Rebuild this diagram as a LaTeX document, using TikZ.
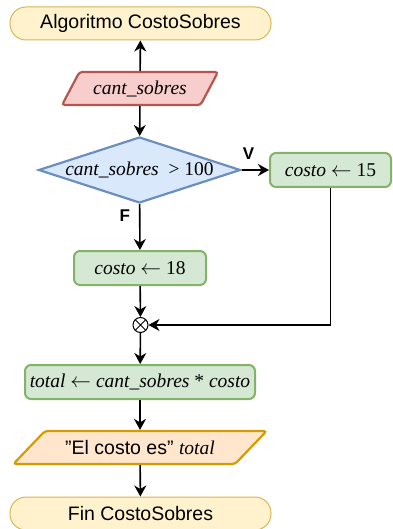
\documentclass[tikz,border=0pt]{standalone}
\usepackage{fontspec}
\setmainfont{Liberation Serif}
\setsansfont{Liberation Sans}
\usetikzlibrary{shapes.geometric,arrows.meta}

\definecolor{termfill}{HTML}{FFF2CC}
\definecolor{termline}{HTML}{D6B656}
\definecolor{infill}{HTML}{F8CECC}
\definecolor{inline}{HTML}{B85450}
\definecolor{decfill}{HTML}{DAE8FC}
\definecolor{decline}{HTML}{6C8EBF}
\definecolor{procfill}{HTML}{D5E8D4}
\definecolor{procline}{HTML}{82B366}
\definecolor{outfill}{HTML}{FFE6CC}
\definecolor{outline}{HTML}{D79B00}

\tikzset{
  terminal/.style={draw=termline, fill=termfill, line width=1pt, rounded corners=16pt,
    minimum width=261pt, minimum height=33pt, font=\sffamily\fontsize{19.5}{22}\selectfont},
  proceso/.style={draw=procline, fill=procfill, line width=2pt, rounded corners=6pt,
    minimum height=34pt, inner sep=2pt, font=\fontsize{19.5}{22}\selectfont\itshape},
  datos/.style={trapezium, trapezium stretches=true, line width=2.2pt, rounded corners=3pt,
    minimum height=33pt, inner sep=0pt, font=\fontsize{19.5}{22}\selectfont},
  decision/.style={diamond, aspect=3, draw=decline, fill=decfill, line width=2.2pt,
    minimum width=202pt, minimum height=66pt, inner sep=0pt, font=\fontsize{19.5}{22}\selectfont},
  union/.style={circle, draw, fill=white, line width=1pt, minimum size=15pt, inner sep=0pt,
    path picture={\draw[line width=1pt] (path picture bounding box.north west) -- (path picture bounding box.south east)
      (path picture bounding box.north east) -- (path picture bounding box.south west);}},
  flecha/.style={-{Stealth[length=11pt,width=12pt,inset=3.5pt]}, line width=1.6pt},
  etiq/.style={font=\sffamily\bfseries\fontsize{17}{20}\selectfont, inner sep=0pt}
}

\begin{document}
\begin{tikzpicture}[x=1pt,y=-1pt]
	\useasboundingbox (0,0) rectangle (392,529);

	% Inicio
	\node[terminal] (inicio) at (140.5,23.5) {Algoritmo CostoSobres};

	% Lectura
	\node[datos, draw=inline, fill=infill, trapezium left angle=50, trapezium right angle=130,
		minimum width=156pt] (leer) at (140,88.5) {\itshape cant\_sobres};

	% Condicion
	\node[decision] (cond) at (139.5,170) {\itshape cant\_sobres\upshape\ \ > 100};

	% Asignaciones
	\node[proceso, minimum width=121pt] (asig15) at (330.5,170) {costo $\leftarrow$ \upshape 15};
	\node[proceso, minimum width=132pt] (asig18) at (140,268) {costo $\leftarrow$ \upshape 18};

	% Union
	\node[union] (junta) at (140.5,325) {};

	% Calculo
	\node[proceso, minimum width=230pt] (calc) at (140,382) {total $\leftarrow$ cant\_sobres \upshape* \itshape costo};

	% Escritura
	\node[datos, draw=outline, fill=outfill, trapezium left angle=30, trapezium right angle=150,
		minimum width=254pt] (escr) at (140,447.5) {\sffamily\symbol{34}El costo es\symbol{34} \rmfamily\itshape total};

	% Fin
	\node[terminal] (fin) at (140.5,513.5) {Fin CostoSobres};

	% Flechas
	\draw[flecha] (leer) -- (inicio);
	\draw[flecha] (leer) -- (cond);
	\draw[flecha] (cond) -- node[etiq, pos=0.25, anchor=south, yshift=10pt] {V} (asig15);
	\draw[flecha] (cond) -- node[etiq, pos=0.25, anchor=east, xshift=-9pt] {F} (asig18);
	\draw[flecha] (asig18) -- (junta);
	\draw[flecha, line width=1.2pt] (asig15) |- (junta);
	\draw[flecha] (junta) -- (calc);
	\draw[flecha] (calc) -- (escr);
	\draw[flecha] (escr) -- (fin);
\end{tikzpicture}
\end{document}
